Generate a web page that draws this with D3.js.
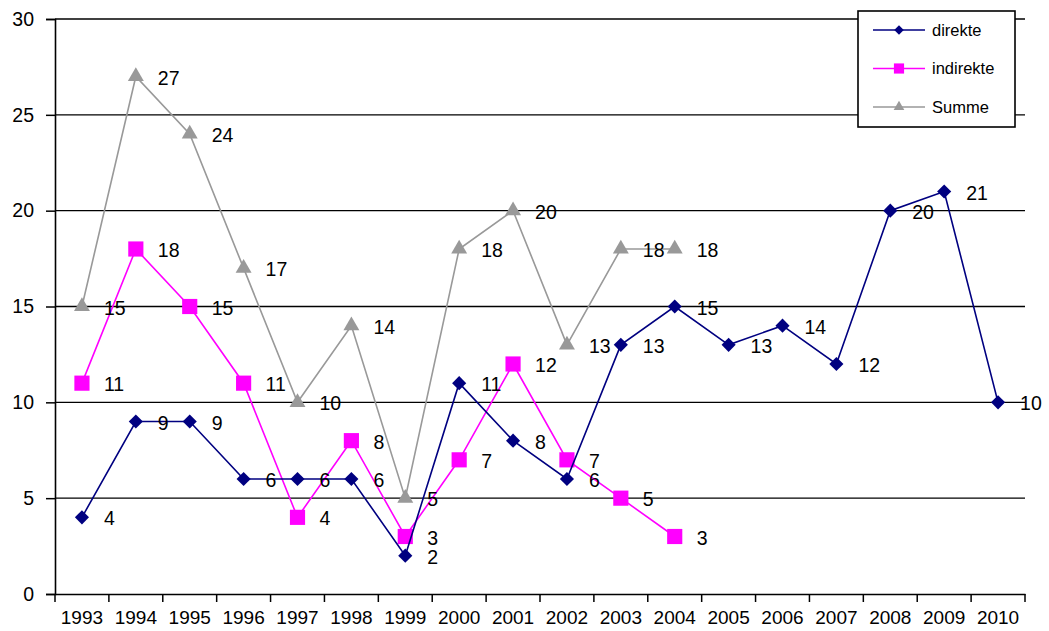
<!DOCTYPE html>
<html>
<head>
<meta charset="utf-8">
<script src="https://cdn.jsdelivr.net/npm/d3@7"></script>
<style>
	body { margin:0; background:#fff; }
	text { font-family: "Liberation Sans", Arial, sans-serif; }
</style>
</head>
<body>
<svg id="chart" width="1049" height="631"></svg>
<script>
var years = ["1993","1994","1995","1996","1997","1998","1999","2000","2001","2002","2003","2004","2005","2006","2007","2008","2009","2010"];
var direkte = [4,9,9,6,6,6,2,11,8,6,13,15,13,14,12,20,21,10];
var indirekte = [11,18,15,11,4,8,3,7,12,7,5,3];
var summe = [15,27,24,17,10,14,5,18,20,13,18,18];
var yTicks = [0,5,10,15,20,25,30];

var svg = d3.select("#chart");
var plotLeft = 55, plotRight = 1025, plotTop = 19, plotBottom = 594;

var x = d3.scaleBand().domain(years).range([plotLeft,plotRight]);
var y = d3.scaleLinear().domain([0,30]).range([plotBottom,plotTop]);

// grid
svg.append("g").selectAll("line").data(yTicks.slice(1)).enter().append("line")
	.attr("x1",plotLeft).attr("x2",plotRight)
	.attr("y1",function(d){ return y(d); }).attr("y2",function(d){ return y(d); })
	.attr("stroke","#000").attr("stroke-width",1.4);

// y axis
var yAxis = d3.axisLeft(y).tickValues(yTicks).tickSize(9).tickPadding(12);
var gy = svg.append("g").attr("transform","translate("+plotLeft+",0)").call(yAxis);
gy.select(".domain").attr("stroke","#000").attr("stroke-width",1.6);
gy.selectAll("line").attr("stroke-width",1.5);
gy.selectAll("text").attr("font-size",19.5).attr("fill","#000");

// x axis
var xAxis = d3.axisBottom(x).tickSizeInner(0).tickSizeOuter(0).tickPadding(17);
var gx = svg.append("g").attr("transform","translate(0,"+plotBottom+")").call(xAxis);
gx.select(".domain").attr("stroke","#000").attr("stroke-width",1.6);
gx.selectAll("text").attr("font-size",19).attr("fill","#000");
gx.append("g").selectAll("line").data(d3.range(years.length+1)).enter().append("line")
	.attr("x1",function(i){ return plotLeft + i*x.step(); })
	.attr("x2",function(i){ return plotLeft + i*x.step(); })
	.attr("y1",0).attr("y2",8)
	.attr("stroke","#000").attr("stroke-width",1.5);

var cx = function(d,i){ return x(years[i]) + x.bandwidth()/2; };

var series = [
	{name:"Summe", values:summe, color:"#999999", width:1.6, shape:d3.symbolTriangle, size:110, rot:0},
	{name:"indirekte", values:indirekte, color:"#ff00ff", width:1.6, shape:d3.symbolSquare, size:230, rot:0},
	{name:"direkte", values:direkte, color:"#000080", width:1.6, shape:d3.symbolSquare, size:100, rot:45}
];

series.forEach(function(s){
	var line = d3.line().x(cx).y(function(d){ return y(d); });
	svg.append("path").datum(s.values)
		.attr("d",line).attr("fill","none")
		.attr("stroke",s.color).attr("stroke-width",s.width);
	svg.append("g").selectAll("path").data(s.values).enter().append("path")
		.attr("d",d3.symbol().type(s.shape).size(s.size))
		.attr("transform",function(d,i){ return "translate("+cx(d,i)+","+y(d)+") rotate("+s.rot+")"; })
		.attr("fill",s.color);
});

// data labels
series.forEach(function(s){
	svg.append("g").selectAll("text").data(s.values).enter().append("text")
		.attr("x",function(d,i){ return cx(d,i)+22; })
		.attr("y",function(d){ return y(d)+1; })
		.attr("dy","0.36em")
		.attr("font-size",19.5)
		.attr("fill","#000")
		.text(function(d){ return d; });
});

// legend
var legend = svg.append("g").attr("transform","translate(858,11)");
legend.append("rect").attr("width",157).attr("height",116)
	.attr("fill","#fff").attr("stroke","#000").attr("stroke-width",1.6);
var legItems = [series[2],series[1],series[0]];
legItems.forEach(function(s,i){
	var ly = 19 + i*38.5;
	legend.append("line").attr("x1",15).attr("x2",67).attr("y1",ly).attr("y2",ly)
		.attr("stroke",s.color).attr("stroke-width",s.width);
	legend.append("path").attr("d",d3.symbol().type(s.shape).size(s.size*0.45))
		.attr("transform","translate(41,"+ly+") rotate("+s.rot+")").attr("fill",s.color);
	legend.append("text").attr("x",74).attr("y",ly).attr("dy","0.36em")
		.attr("font-size",16.5).attr("fill","#000").text(s.name);
});
</script>
</body>
</html>
